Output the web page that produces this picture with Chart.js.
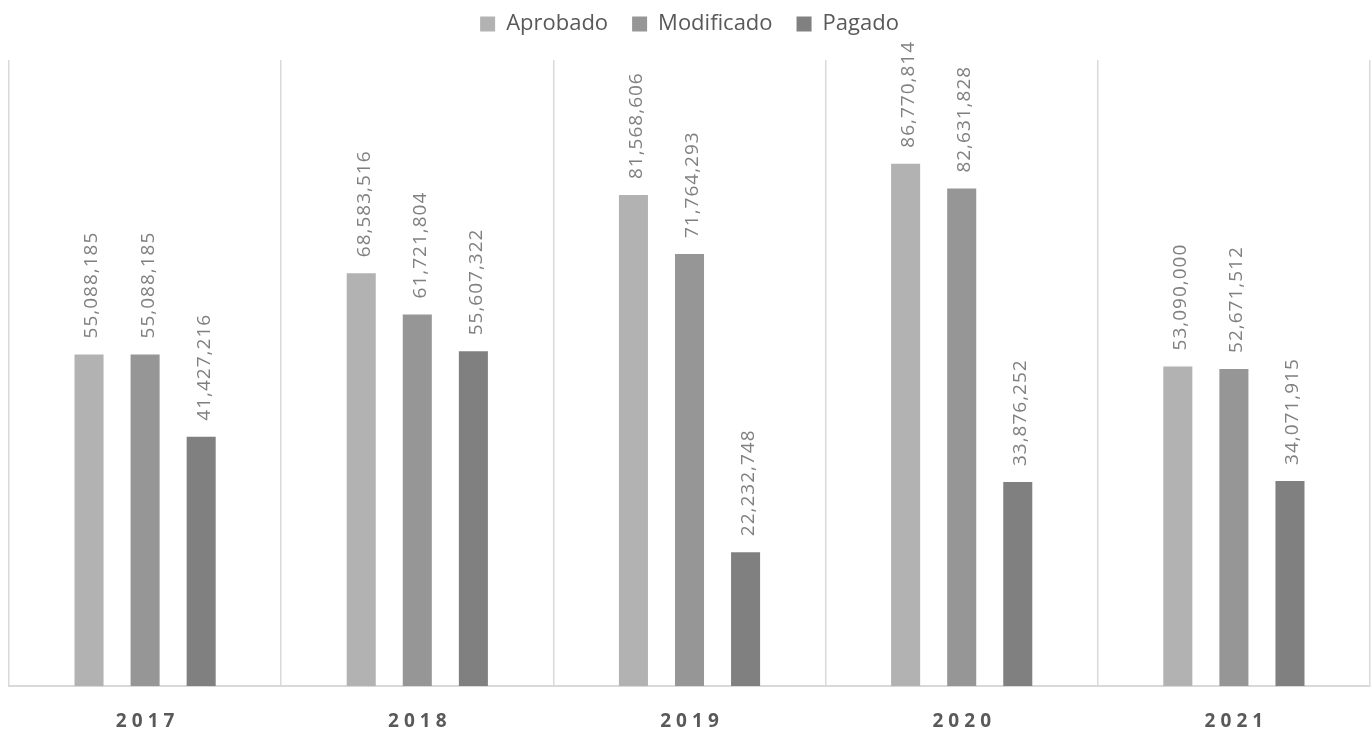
<!DOCTYPE html>
<html>
<head>
<meta charset="utf-8">
<script src="https://cdn.jsdelivr.net/npm/chart.js@4"></script>
<style>
    html, body { margin: 0; padding: 0; background: #fff; }
    #wrap { width: 1372px; height: 734px; }
</style>
</head>
<body>
<div id="wrap"><canvas id="chart"></canvas></div>
<script>
const years = ['2017', '2018', '2019', '2020', '2021'];
const aprobado = [55088185, 68583516, 81568606, 86770814, 53090000];
const modificado = [55088185, 61721804, 71764293, 82631828, 52671512];
const pagado = [41427216, 55607322, 22232748, 33876252, 34071915];

const fmt = v => v.toLocaleString('en-US');

// rotated value labels above the bars
const barLabels = {
    id: 'barLabels',
    afterDatasetsDraw(chart) {
        const ctx = chart.ctx;
        chart.data.datasets.forEach((ds, i) => {
            const meta = chart.getDatasetMeta(i);
            meta.data.forEach((bar, j) => {
                ctx.save();
                ctx.translate(bar.x + 3, bar.y - 16);
                ctx.rotate(-Math.PI / 2);
                ctx.font = '19px "Open Sans"';
                ctx.letterSpacing = '1px';
                ctx.fillStyle = '#808080';
                ctx.textAlign = 'left';
                ctx.textBaseline = 'middle';
                ctx.fillText(fmt(ds.data[j]), 0, 0);
                ctx.restore();
            });
        });
    }
};

// leave more room under the legend
const legendGap = {
    id: 'legendGap',
    beforeInit(chart) {
        const origFit = chart.legend.fit;
        chart.legend.fit = function () {
            origFit.bind(chart.legend)();
            this.height = 71;
        };
    }
};

new Chart(document.getElementById('chart'), {
    type: 'bar',
    data: {
        labels: years,
        datasets: [
            {label: 'Aprobado', data: aprobado, backgroundColor: '#b2b2b2'},
            {label: 'Modificado', data: modificado, backgroundColor: '#969696'},
            {label: 'Pagado', data: pagado, backgroundColor: '#808080'}
        ]
    },
    options: {
        responsive: true,
        maintainAspectRatio: false,
        animation: false,
        categoryPercentage: 0.618,
        barPercentage: 0.518,
        layout: {
            padding: {left: 9, right: 2, top: -11, bottom: 0}
        },
        plugins: {
            legend: {
                position: 'top',
                labels: {
                    boxWidth: 15,
                    boxHeight: 15,
                    padding: 24,
                    color: '#595959',
                    font: {family: '"Open Sans"', size: 22}
                }
            },
            tooltip: {enabled: false}
        },
        scales: {
            x: {
                afterFit: function (scale) {
                    scale.height = 48;
                },
                grid: {
                    offset: true,
                    color: '#d9d9d9',
                    lineWidth: 1.5,
                    drawTicks: false
                },
                border: {color: '#d9d9d9', width: 2},
                ticks: {
                    padding: 24,
                    color: '#595959',
                    font: {family: '"Open Sans"', size: 19, weight: 'bold'},
                    callback: function (v) {
                        return this.getLabelForValue(v).split('').join('\u2009\u200A');
                    }
                }
            },
            y: {
                display: false,
                min: 0,
                max: 104000000
            }
        }
    },
    plugins: [barLabels, legendGap]
});
</script>
</body>
</html>
